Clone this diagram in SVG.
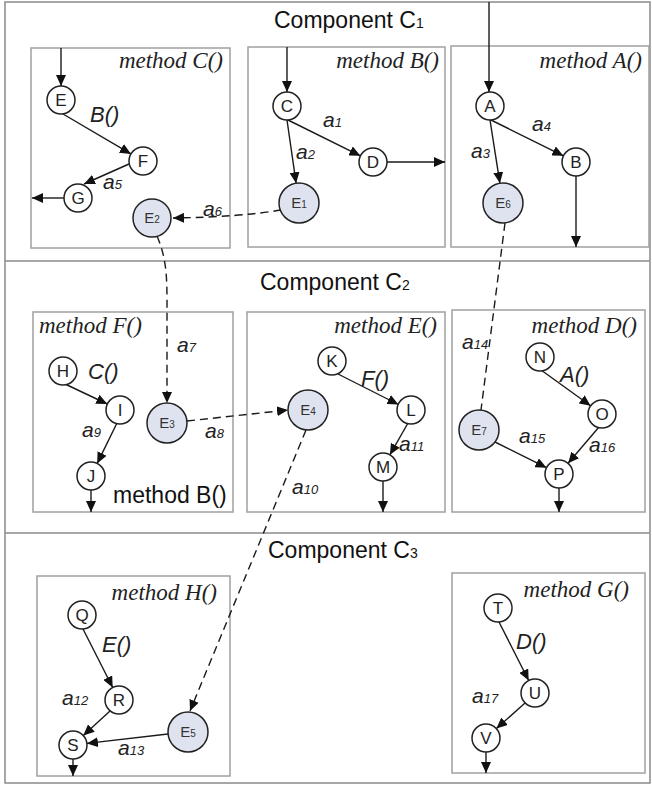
<svg xmlns="http://www.w3.org/2000/svg" width="652" height="786" viewBox="0 0 652 786">
<style>
.frame{fill:#fff;stroke:#8a8a8a;stroke-width:1.5}
.sep{stroke:#8a8a8a;stroke-width:1.5}
.box{fill:#fff;stroke:#a0a0a0;stroke-width:1.5}
.title{font-family:"Liberation Sans",Arial,sans-serif;font-size:23px;fill:#111}
.mt{font-family:"Liberation Serif","Times New Roman",serif;font-style:italic;font-size:23px;fill:#222}
.lbl{font-family:"Liberation Sans",Arial,sans-serif;font-style:italic;font-size:21px;fill:#222}
.fn{font-size:22px}
.plain{font-family:"Liberation Sans",Arial,sans-serif;font-size:23px;fill:#111}
.n{fill:#fff;stroke:#222;stroke-width:1.5}
.en{fill:#dfe3ef;stroke:#222;stroke-width:1.5}
.nt{font-family:"Liberation Sans",Arial,sans-serif;font-size:17px;fill:#222;text-anchor:middle}
.et{font-family:"Liberation Sans",Arial,sans-serif;font-size:15px;fill:#333;text-anchor:middle}
.e{fill:none;stroke:#1a1a1a;stroke-width:1.4;marker-end:url(#ah)}
.d{fill:none;stroke:#1a1a1a;stroke-width:1.4;stroke-dasharray:8,5}
.da{marker-end:url(#ah)}
</style>
<defs>
<marker id="ah" markerUnits="userSpaceOnUse" markerWidth="12" markerHeight="10" refX="11" refY="5" orient="auto">
<path d="M0,0 L11,5 L0,10 z" fill="#111"/>
</marker>
</defs>
<rect class="frame" x="5" y="2" width="645" height="781"/>
<line class="sep" x1="5" y1="261" x2="650" y2="261"/>
<line class="sep" x1="5" y1="533" x2="650" y2="533"/>
<text class="title" x="274" y="28">Component C<tspan font-size="14">1</tspan></text>
<text class="title" x="260" y="290">Component C<tspan font-size="14">2</tspan></text>
<text class="title" x="268" y="558">Component C<tspan font-size="14">3</tspan></text>

<g id="method-C">
<rect class="box" x="31" y="48" width="199" height="200"/>
<text class="mt" x="223" y="68" text-anchor="end">method C()</text>
</g>
<g id="method-B">
<rect class="box" x="248" y="47" width="197" height="200"/>
<text class="mt" x="439" y="68" text-anchor="end">method B()</text>
</g>
<g id="method-A">
<rect class="box" x="451" y="46" width="198" height="201"/>
<text class="mt" x="642" y="68" text-anchor="end">method A()</text>
</g>
<g id="method-F">
<rect class="box" x="33" y="312" width="200" height="200"/>
<text class="mt" x="39" y="333">method F()</text>
<text class="plain" x="113" y="503">method B()</text>
</g>
<g id="method-E">
<rect class="box" x="247" y="312" width="198" height="200"/>
<text class="mt" x="437" y="333" text-anchor="end">method E()</text>
</g>
<g id="method-D">
<rect class="box" x="452" y="310" width="193" height="202"/>
<text class="mt" x="637" y="333" text-anchor="end">method D()</text>
</g>
<g id="method-H">
<rect class="box" x="37" y="576" width="193" height="200"/>
<text class="mt" x="217" y="600" text-anchor="end">method H()</text>
</g>
<g id="method-G">
<rect class="box" x="452" y="573" width="193" height="200"/>
<text class="mt" x="629" y="597" text-anchor="end">method G()</text>
</g>

<g id="connectors">
<line class="e" x1="61" y1="48" x2="61" y2="86"/>
<line class="e" x1="63" y1="114" x2="130.9" y2="153.9"/>
<line class="e" x1="129" y1="164" x2="84" y2="184"/>
<line class="e" x1="64" y1="198" x2="32" y2="198"/>
<line class="e" x1="287" y1="47" x2="287" y2="92"/>
<line class="e" x1="288" y1="120" x2="360.4" y2="155.8"/>
<line class="e" x1="287" y1="120" x2="296.1" y2="183.2"/>
<line class="e" x1="387" y1="162" x2="445" y2="162"/>
<line class="e" x1="489" y1="2" x2="489" y2="92"/>
<line class="e" x1="491" y1="120" x2="563.4" y2="155.8"/>
<line class="e" x1="490" y1="120" x2="499.9" y2="183.2"/>
<line class="e" x1="576" y1="176" x2="576" y2="247"/>
<line class="e" x1="65" y1="384" x2="107.3" y2="404"/>
<line class="e" x1="117" y1="423" x2="97.2" y2="463.4"/>
<line class="e" x1="91" y1="490" x2="91" y2="512"/>
<line class="e" x1="338" y1="374" x2="398.4" y2="404.5"/>
<line class="e" x1="408" y1="423" x2="389.9" y2="454.8"/>
<line class="e" x1="383" y1="481" x2="383" y2="512"/>
<line class="e" x1="541" y1="370" x2="590.6" y2="405.8"/>
<line class="e" x1="599" y1="427" x2="568.1" y2="463.3"/>
<line class="e" x1="495" y1="442" x2="546.5" y2="467.7"/>
<line class="e" x1="559" y1="488" x2="559" y2="512"/>
<line class="e" x1="83" y1="629" x2="112.7" y2="687.5"/>
<line class="e" x1="110" y1="711" x2="83.3" y2="735.5"/>
<line class="e" x1="168" y1="734" x2="86.9" y2="743.4"/>
<line class="e" x1="73" y1="759" x2="73" y2="776"/>
<line class="e" x1="499" y1="622" x2="528.7" y2="680.5"/>
<line class="e" x1="525" y1="703" x2="496.4" y2="728.6"/>
<line class="e" x1="486" y1="752" x2="486" y2="773"/>
<path class="d da" d="M281,210 Q240,217 173,218"/>
<path class="d da" d="M157,236 C165,255 167,270 167,300 L167,403"/>
<path class="d da" d="M187,421 L288,410"/>
<path class="d da" d="M306,430 L190,711"/>
<path class="d" d="M505,223 L481,410"/>
<text class="lbl fn" x="90" y="122">B()</text>
<text class="lbl" x="103" y="189">a<tspan font-size="13">5</tspan></text>
<text class="lbl" x="203" y="216">a<tspan font-size="13">6</tspan></text>
<text class="lbl" x="323" y="127">a<tspan font-size="13">1</tspan></text>
<text class="lbl" x="296" y="159">a<tspan font-size="13">2</tspan></text>
<text class="lbl" x="532" y="131">a<tspan font-size="13">4</tspan></text>
<text class="lbl" x="471" y="158">a<tspan font-size="13">3</tspan></text>
<text class="lbl fn" x="88" y="379">C()</text>
<text class="lbl" x="82" y="437">a<tspan font-size="13">9</tspan></text>
<text class="lbl" x="177" y="352">a<tspan font-size="13">7</tspan></text>
<text class="lbl" x="205" y="438">a<tspan font-size="13">8</tspan></text>
<text class="lbl" x="292" y="494">a<tspan font-size="13">10</tspan></text>
<text class="lbl fn" x="361" y="386">F()</text>
<text class="lbl" x="399" y="451">a<tspan font-size="13">11</tspan></text>
<text class="lbl" x="462" y="349">a<tspan font-size="13">14</tspan></text>
<text class="lbl fn" x="560" y="382">A()</text>
<text class="lbl" x="519" y="443">a<tspan font-size="13">15</tspan></text>
<text class="lbl" x="589" y="452">a<tspan font-size="13">16</tspan></text>
<text class="lbl fn" x="102" y="652">E()</text>
<text class="lbl" x="62" y="705">a<tspan font-size="13">12</tspan></text>
<text class="lbl" x="118" y="755">a<tspan font-size="13">13</tspan></text>
<text class="lbl fn" x="516" y="649">D()</text>
<text class="lbl" x="472" y="703">a<tspan font-size="13">17</tspan></text>
</g>

<g id="node-E"><circle class="n" cx="61" cy="100" r="14"/><text class="nt" x="61" y="106">E</text></g>
<g id="node-F"><circle class="n" cx="143" cy="161" r="14"/><text class="nt" x="143" y="167">F</text></g>
<g id="node-G"><circle class="n" cx="78" cy="198" r="14"/><text class="nt" x="78" y="204">G</text></g>
<g id="node-E2"><circle class="en" cx="152" cy="218" r="19"/><text class="et" x="152" y="223">E<tspan font-size="10">2</tspan></text></g>
<g id="node-C"><circle class="n" cx="287" cy="106" r="14"/><text class="nt" x="287" y="112">C</text></g>
<g id="node-D"><circle class="n" cx="373" cy="162" r="14"/><text class="nt" x="373" y="168">D</text></g>
<g id="node-E1"><circle class="en" cx="299" cy="203" r="20"/><text class="et" x="299" y="208">E<tspan font-size="10">1</tspan></text></g>
<g id="node-A"><circle class="n" cx="490" cy="106" r="14"/><text class="nt" x="490" y="112">A</text></g>
<g id="node-B"><circle class="n" cx="576" cy="162" r="14"/><text class="nt" x="576" y="168">B</text></g>
<g id="node-E6"><circle class="en" cx="503" cy="203" r="20"/><text class="et" x="503" y="208">E<tspan font-size="10">6</tspan></text></g>
<g id="node-H"><circle class="n" cx="63" cy="371" r="14"/><text class="nt" x="63" y="377">H</text></g>
<g id="node-I"><circle class="n" cx="120" cy="410" r="14"/><text class="nt" x="120" y="416">I</text></g>
<g id="node-J"><circle class="n" cx="91" cy="476" r="14"/><text class="nt" x="91" y="482">J</text></g>
<g id="node-E3"><circle class="en" cx="167" cy="423" r="20"/><text class="et" x="167" y="428">E<tspan font-size="10">3</tspan></text></g>
<g id="node-K"><circle class="n" cx="332" cy="361" r="14"/><text class="nt" x="332" y="367">K</text></g>
<g id="node-L"><circle class="n" cx="411" cy="410" r="14"/><text class="nt" x="411" y="416">L</text></g>
<g id="node-M"><circle class="n" cx="383" cy="467" r="14"/><text class="nt" x="383" y="473">M</text></g>
<g id="node-E4"><circle class="en" cx="308" cy="410" r="20"/><text class="et" x="308" y="415">E<tspan font-size="10">4</tspan></text></g>
<g id="node-N"><circle class="n" cx="540" cy="357" r="14"/><text class="nt" x="540" y="363">N</text></g>
<g id="node-O"><circle class="n" cx="602" cy="414" r="14"/><text class="nt" x="602" y="420">O</text></g>
<g id="node-P"><circle class="n" cx="559" cy="474" r="14"/><text class="nt" x="559" y="480">P</text></g>
<g id="node-E7"><circle class="en" cx="479" cy="430" r="20"/><text class="et" x="479" y="435">E<tspan font-size="10">7</tspan></text></g>
<g id="node-Q"><circle class="n" cx="82" cy="615" r="14"/><text class="nt" x="82" y="621">Q</text></g>
<g id="node-R"><circle class="n" cx="119" cy="700" r="14"/><text class="nt" x="119" y="706">R</text></g>
<g id="node-S"><circle class="n" cx="73" cy="745" r="14"/><text class="nt" x="73" y="751">S</text></g>
<g id="node-E5"><circle class="en" cx="188" cy="732" r="20"/><text class="et" x="188" y="737">E<tspan font-size="10">5</tspan></text></g>
<g id="node-T"><circle class="n" cx="498" cy="608" r="14"/><text class="nt" x="498" y="614">T</text></g>
<g id="node-U"><circle class="n" cx="535" cy="693" r="14"/><text class="nt" x="535" y="699">U</text></g>
<g id="node-V"><circle class="n" cx="486" cy="738" r="14"/><text class="nt" x="486" y="744">V</text></g>
</svg>
